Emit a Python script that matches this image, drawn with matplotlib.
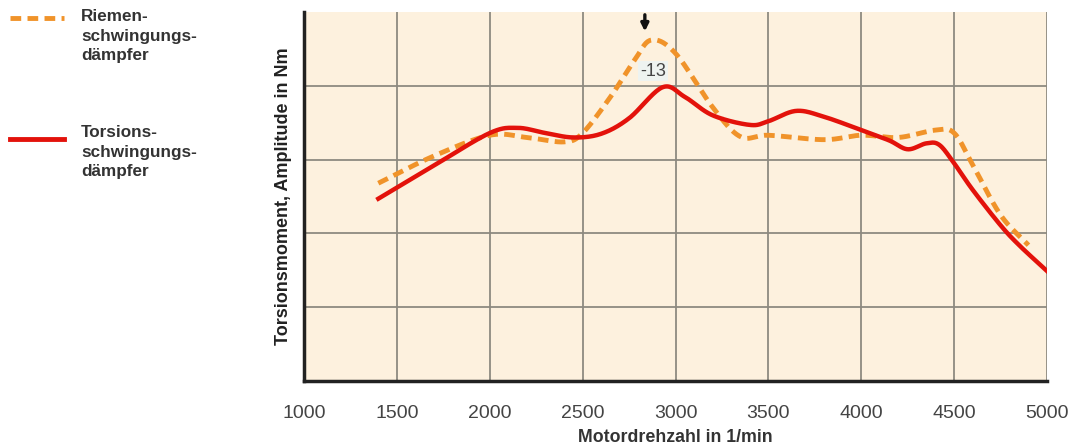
import matplotlib
matplotlib.use("Agg")
import matplotlib.pyplot as plt
import numpy as np

# Data, y in grid units (no y tick labels in the original)
rpm_torsion = [1400, 1700, 2000, 2150, 2300, 2450, 2600, 2750, 2930, 3050, 3200, 3400, 3500, 3650, 3800, 4000, 4150, 4250, 4350, 4420, 4500, 4600, 4750, 4850, 5000]
amp_torsion = [2.47, 2.92, 3.36, 3.43, 3.36, 3.30, 3.35, 3.56, 3.98, 3.85, 3.60, 3.47, 3.52, 3.66, 3.58, 3.40, 3.26, 3.14, 3.22, 3.20, 2.95, 2.59, 2.11, 1.84, 1.49]

rpm_riemen = [1400, 1700, 2000, 2200, 2400, 2500, 2650, 2780, 2870, 3000, 3200, 3350, 3500, 3800, 4000, 4200, 4400, 4500, 4600, 4750, 4900]
amp_riemen = [2.68, 3.05, 3.33, 3.30, 3.24, 3.36, 3.85, 4.35, 4.62, 4.44, 3.71, 3.31, 3.33, 3.27, 3.33, 3.30, 3.40, 3.36, 2.93, 2.25, 1.84]

xticks = [1000, 1500, 2000, 2500, 3000, 3500, 4000, 4500, 5000]
ygrid = [1, 2, 3, 4]

peak_label = "-13"
peak_rpm = 2870
legend_riemen = "Riemen-\nschwingungs-\ndämpfer"
legend_torsion = "Torsions-\nschwingungs-\ndämpfer"
xlabel = "Motordrehzahl in 1/min"
ylabel = "Torsionsmoment, Amplitude in Nm"

plt.rcParams['font.family'] = ['Liberation Sans', 'DejaVu Sans']

def smooth(x, y):
    x = np.asarray(x, float); y = np.asarray(y, float)
    xs, ys = [], []
    P = np.column_stack([x, y])
    P = np.vstack([P[0] - (P[1] - P[0]), P, P[-1] + (P[-1] - P[-2])])
    for i in range(1, len(P) - 2):
        p0, p1, p2, p3 = P[i-1], P[i], P[i+1], P[i+2]
        t = np.linspace(0, 1, 20, endpoint=False)[:, None]
        pts = 0.5 * ((2*p1) + (-p0 + p2)*t + (2*p0 - 5*p1 + 4*p2 - p3)*t**2 + (-p0 + 3*p1 - 3*p2 + p3)*t**3)
        xs.append(pts[:, 0]); ys.append(pts[:, 1])
    xs.append([x[-1]]); ys.append([y[-1]])
    return np.concatenate(xs), np.concatenate(ys)

fig = plt.figure(figsize=(10.77, 4.45), dpi=100)
ax = fig.add_axes([304/1077, 1 - 381/445, (1047-304)/1077, (381-12)/445])
ax.set_facecolor('#fdf1de')
ax.set_xlim(1000, 5000)
ax.set_ylim(0, 5)

for xv in xticks[1:]:
    ax.axvline(xv, color='#8e8a80', lw=1.3, zorder=1)
for yv in ygrid:
    ax.axhline(yv, color='#8e8a80', lw=1.3, zorder=1)

for s in ['top', 'right']:
    ax.spines[s].set_visible(False)
ax.spines['left'].set_linewidth(2.5)
ax.spines['bottom'].set_linewidth(2.5)
ax.spines['left'].set_color('#222222')
ax.spines['bottom'].set_color('#222222')

xt, yt = smooth(rpm_torsion, amp_torsion)
xr, yr = smooth(rpm_riemen, amp_riemen)
ax.plot(xr, yr, color='#f0932a', lw=3.5, dashes=(2.2, 1.3), zorder=3, solid_capstyle='butt')
ax.plot(xt, yt, color='#e3120b', lw=3.2, zorder=4)

ax.set_xticks(xticks)
ax.set_xticklabels([str(v) for v in xticks], fontsize=14, color='#444444')
ax.tick_params(axis='x', length=0, pad=17)
ax.set_yticks([])
ax.set_xlabel(xlabel, fontsize=12.8, fontweight='bold', color='#333333', labelpad=5)
ax.set_ylabel(ylabel, fontsize=13, fontweight='bold', color='#222222', labelpad=9)

# peak annotation
ax.annotate('', xy=(peak_rpm - 35, 4.7), xytext=(peak_rpm - 35, 5.0),
            arrowprops=dict(arrowstyle='-|>', color='#111111', lw=2.4, mutation_scale=11),
            annotation_clip=False, zorder=6)
ax.text(peak_rpm + 10, 4.2, peak_label, fontsize=13, color='#444444', ha='center', va='center',
        bbox=dict(boxstyle='square,pad=0.1', fc='#eef3f0', ec='none'), zorder=5)

# legend at left
fig.lines.append(plt.Line2D([10/1077, 64/1077], [1 - 18/445, 1 - 18/445], transform=fig.transFigure,
                            color='#f0932a', lw=3.5, dashes=(2.2, 1.3)))
fig.lines.append(plt.Line2D([10/1077, 64/1077], [1 - 139/445, 1 - 139/445], transform=fig.transFigure,
                            color='#e3120b', lw=3.5))
fig.text(81/1077, 1 - 9/445, legend_riemen, fontsize=12.3, fontweight='bold', color='#333333',
         va='top', ha='left', linespacing=1.38)
fig.text(81/1077, 1 - 125/445, legend_torsion, fontsize=12.3, fontweight='bold', color='#333333',
         va='top', ha='left', linespacing=1.38)

fig.savefig('out.png', dpi=100)
